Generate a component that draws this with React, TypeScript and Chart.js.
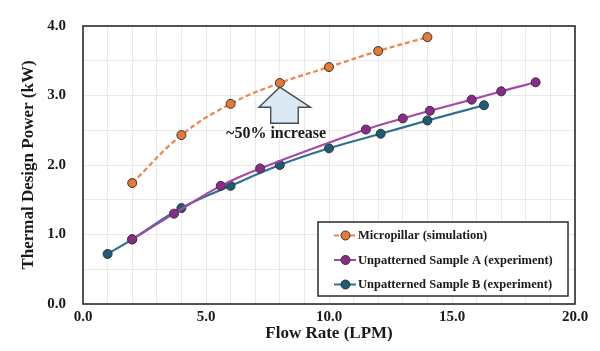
import React, { useEffect, useRef } from "react";
import { Chart, registerables } from "chart.js";

Chart.register(...registerables);

const micropillarX = [2, 4, 6, 8, 10, 12, 14];
const micropillarY = [1.74, 2.43, 2.88, 3.18, 3.41, 3.64, 3.84];

const sampleAX = [2, 3.7, 5.6, 7.2, 11.5, 13.0, 14.1, 15.8, 17.0, 18.4];
const sampleAY = [0.93, 1.3, 1.7, 1.95, 2.51, 2.67, 2.78, 2.94, 3.06, 3.19];

const sampleBX = [1.0, 2.0, 4.0, 6.0, 8.0, 10.0, 12.1, 14.0, 16.3];
const sampleBY = [0.72, 0.93, 1.38, 1.7, 2.0, 2.24, 2.45, 2.64, 2.86];

const seriesLabels = [
  "Micropillar (simulation)",
  "Unpatterned Sample A (experiment)",
  "Unpatterned Sample B (experiment)",
];
const xTitle = "Flow Rate (LPM)";
const yTitle = "Thermal Design Power (kW)";
const annotationText = "~50% increase";

const FONT = "'Liberation Serif', 'Times New Roman', serif";

const colors = [
  { fill: "#e47a34", line: "#ee8446", dash: [5, 3] },
  { fill: "#8c2a8c", line: "#a648a6", dash: [] as number[] },
  { fill: "#1e5b77", line: "#2d7091", dash: [] as number[] },
];

const toPts = (xs: number[], ys: number[]) => xs.map((x, i) => ({ x, y: ys[i] }));

const framePlugin = {
  id: "frameAndExtras",
  afterDraw(chart: any) {
    const { ctx, chartArea: a, scales } = chart;
    ctx.save();
    // frame
    ctx.strokeStyle = "#2b2b2b";
    ctx.lineWidth = 1.6;
    ctx.strokeRect(a.left, a.top, a.right - a.left, a.bottom - a.top);

    // arrow annotation (data units)
    const xs = scales.x, ys = scales.y;
    const px = (v: number) => xs.getPixelForValue(v);
    const py = (v: number) => ys.getPixelForValue(v);
    ctx.beginPath();
    ctx.moveTo(px(8.0), py(3.12));
    ctx.lineTo(px(9.25), py(2.83));
    ctx.lineTo(px(8.75), py(2.83));
    ctx.lineTo(px(8.75), py(2.6));
    ctx.lineTo(px(7.63), py(2.6));
    ctx.lineTo(px(7.63), py(2.83));
    ctx.lineTo(px(7.15), py(2.83));
    ctx.closePath();
    ctx.fillStyle = "#dce8f4";
    ctx.fill();
    ctx.strokeStyle = "#3f4d5c";
    ctx.lineWidth = 1.4;
    ctx.stroke();

    ctx.fillStyle = "#1a1a1a";
    ctx.font = `bold 16px ${FONT}`;
    ctx.textAlign = "center";
    ctx.textBaseline = "middle";
    ctx.fillText(annotationText, px(7.85), py(2.45));

    // legend box
    const lx = 318, ly = 222, lw = 250, lh = 74;
    ctx.fillStyle = "#ffffff";
    ctx.fillRect(lx, ly, lw, lh);
    ctx.strokeStyle = "#2b2b2b";
    ctx.lineWidth = 1.5;
    ctx.strokeRect(lx, ly, lw, lh);
    const rows = [235.5, 260, 284.5];
    ctx.font = `bold 12.5px ${FONT}`;
    ctx.textAlign = "left";
    seriesLabels.forEach((lab, i) => {
      const c = colors[i];
      const y = rows[i];
      ctx.beginPath();
      ctx.setLineDash(c.dash);
      ctx.strokeStyle = c.line;
      ctx.lineWidth = 2;
      ctx.moveTo(334, y);
      ctx.lineTo(356, y);
      ctx.stroke();
      ctx.setLineDash([]);
      ctx.beginPath();
      ctx.arc(345.5, y, 4.5, 0, Math.PI * 2);
      ctx.fillStyle = c.fill;
      ctx.fill();
      ctx.strokeStyle = "#333";
      ctx.lineWidth = 1;
      ctx.stroke();
      ctx.fillStyle = "#1a1a1a";
      ctx.fillText(lab, 358, y + 0.5);
    });
    ctx.restore();
  },
};

export default function App() {
  const ref = useRef<HTMLCanvasElement>(null);
  useEffect(() => {
    if (!ref.current) return;
    const data = [
      toPts(micropillarX, micropillarY),
      toPts(sampleAX, sampleAY),
      toPts(sampleBX, sampleBY),
    ];
    const chart = new Chart(ref.current, {
      type: "line",
      data: {
        datasets: seriesLabels.map((label, i) => ({
          label,
          data: data[i],
          borderColor: colors[i].line,
          backgroundColor: colors[i].fill,
          borderDash: colors[i].dash,
          borderWidth: 2.2,
          pointRadius: 4.5,
          pointBorderColor: "#333",
          pointBorderWidth: 1,
          pointBackgroundColor: colors[i].fill,
          tension: 0.4,
          fill: false,
        })),
      },
      options: {
        animation: false,
        responsive: false,
        maintainAspectRatio: false,
        layout: { padding: { top: 22, right: 25, left: 0, bottom: 0 } },
        plugins: { legend: { display: false }, tooltip: { enabled: false } },
        scales: {
          x: {
            type: "linear",
            min: 0,
            max: 20,
            afterFit: (s: any) => { s.height = 47; },
            grid: { color: "#e9e9e9", drawTicks: false, lineWidth: 1 },
            border: { display: false },
            ticks: {
              stepSize: 1,
              autoSkip: false,
              maxRotation: 0,
              padding: 4,
              color: "#1a1a1a",
              font: { family: FONT, size: 15, weight: "bold" },
              callback: (v: any) => (Number(v) % 5 === 0 ? Number(v).toFixed(1) : ""),
            },
            title: {
              display: true,
              text: xTitle,
              color: "#1a1a1a",
              padding: { top: 0, bottom: 7 },
              font: { family: FONT, size: 17, weight: "bold" },
            },
          },
          y: {
            type: "linear",
            min: 0,
            max: 4,
            afterFit: (s: any) => { s.width = 83; },
            grid: { color: "#e9e9e9", drawTicks: false, lineWidth: 1 },
            border: { display: false },
            ticks: {
              stepSize: 0.5,
              autoSkip: false,
              padding: 17,
              color: "#1a1a1a",
              font: { family: FONT, size: 15, weight: "bold" },
              callback: (v: any) => (Number(v) % 1 === 0 ? Number(v).toFixed(1) : ""),
            },
            title: {
              display: true,
              text: yTitle,
              color: "#1a1a1a",
              padding: { top: 18, bottom: 0 },
              font: { family: FONT, size: 17, weight: "bold" },
            },
          },
        },
      },
      plugins: [framePlugin],
    } as any);
    return () => chart.destroy();
  }, []);
  return (
    <div style={{ position: "fixed", left: 0, top: 0, width: 600, height: 351, background: "#fff" }}>
      <canvas ref={ref} width={600} height={351} style={{ width: 600, height: 351 }} />
    </div>
  );
}
